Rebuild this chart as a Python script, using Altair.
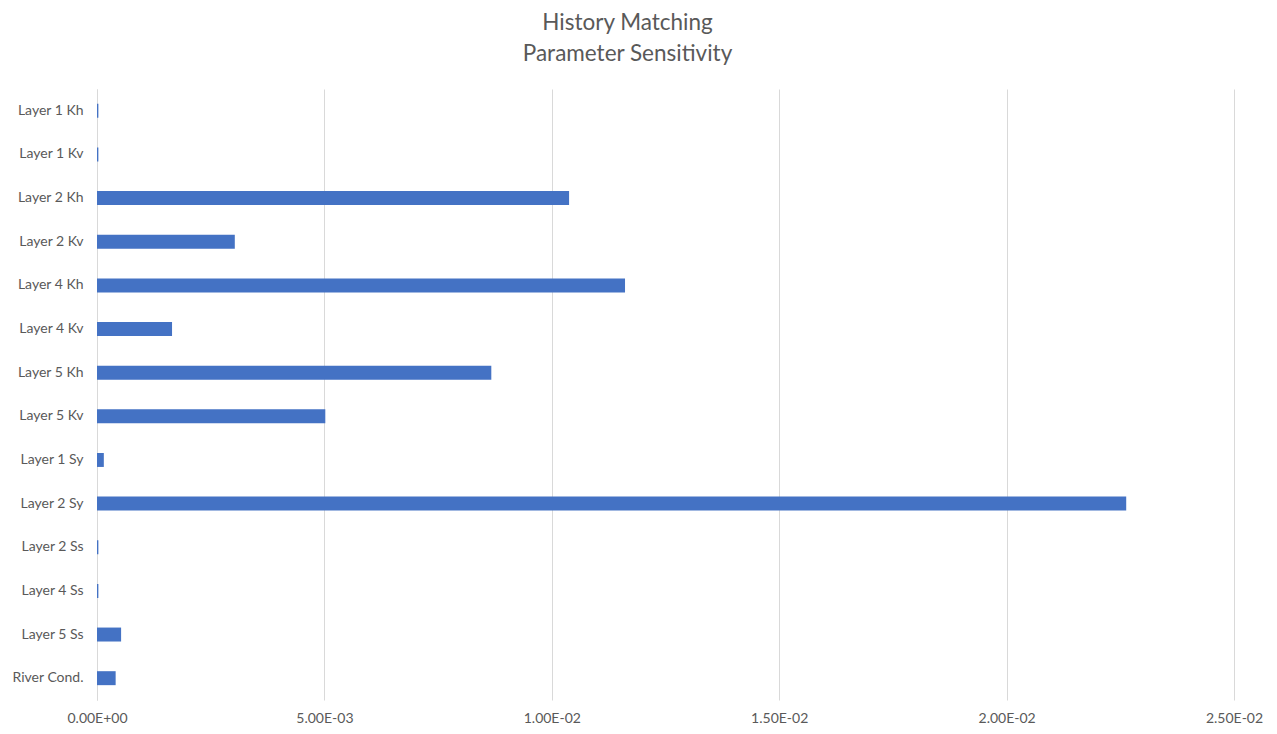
import altair as alt
import pandas as pd

# Parameter names, top to bottom
parameters = [
    "Layer 1 Kh", "Layer 1 Kv", "Layer 2 Kh", "Layer 2 Kv",
    "Layer 4 Kh", "Layer 4 Kv", "Layer 5 Kh", "Layer 5 Kv",
    "Layer 1 Sy", "Layer 2 Sy", "Layer 2 Ss", "Layer 4 Ss",
    "Layer 5 Ss", "River Cond.",
]
# Composite sensitivity of each parameter
sensitivity = [
    0.00003, 0.00003, 0.01038, 0.00303,
    0.01161, 0.00165, 0.00867, 0.00502,
    0.00015, 0.02263, 0.00003, 0.00003,
    0.00053, 0.00041,
]
x_ticks = [0.0, 0.005, 0.01, 0.015, 0.02, 0.025]

df = pd.DataFrame({"parameter": parameters, "sensitivity": sensitivity})

FONT = "Lato"
TEXT = "#595959"
GRID = "#D9D9D9"

chart = (
    alt.Chart(df)
    .mark_bar(color="#4472C4")
    .encode(
        x=alt.X(
            "sensitivity:Q",
            scale=alt.Scale(domain=[0, 0.025], nice=False),
            axis=alt.Axis(
                title=None,
                values=x_ticks,
                labelExpr="replace(replace(format(datum.value, '.2e'), 'e-', 'E-0'), 'e+', 'E+0')",
                labelFlush=False,
                grid=True,
                gridColor=GRID,
                gridWidth=1,
                domain=False,
                ticks=False,
                labelPadding=11,
                labelFontSize=14,
                labelColor=TEXT,
                labelFont=FONT,
            ),
        ),
        y=alt.Y(
            "parameter:N",
            sort=None,
            scale=alt.Scale(paddingInner=0.68, paddingOuter=0.34),
            axis=alt.Axis(
                title=None,
                domain=True,
                domainColor=GRID,
                domainWidth=1,
                ticks=False,
                grid=False,
                labelPadding=14,
                labelFontSize=14,
                labelColor=TEXT,
                labelFont=FONT,
            ),
        ),
    )
    .properties(
        width=1137,
        height=611,
        background="white",
        autosize=alt.AutoSizeParams(type="none"),
        padding={"left": 97, "top": 89, "right": 43, "bottom": 34},
        title=alt.TitleParams(
            text=["History Matching", "Parameter Sensitivity"],
            anchor="middle",
            frame="group",
            dx=-38,
            offset=24,
            fontSize=22.5,
            lineHeight=31,
            font=FONT,
            fontWeight="normal",
            color=TEXT,
        ),
    )
    .configure_view(strokeWidth=0)
)

chart.save("out.html", embed_options={"renderer": "svg", "actions": False})
